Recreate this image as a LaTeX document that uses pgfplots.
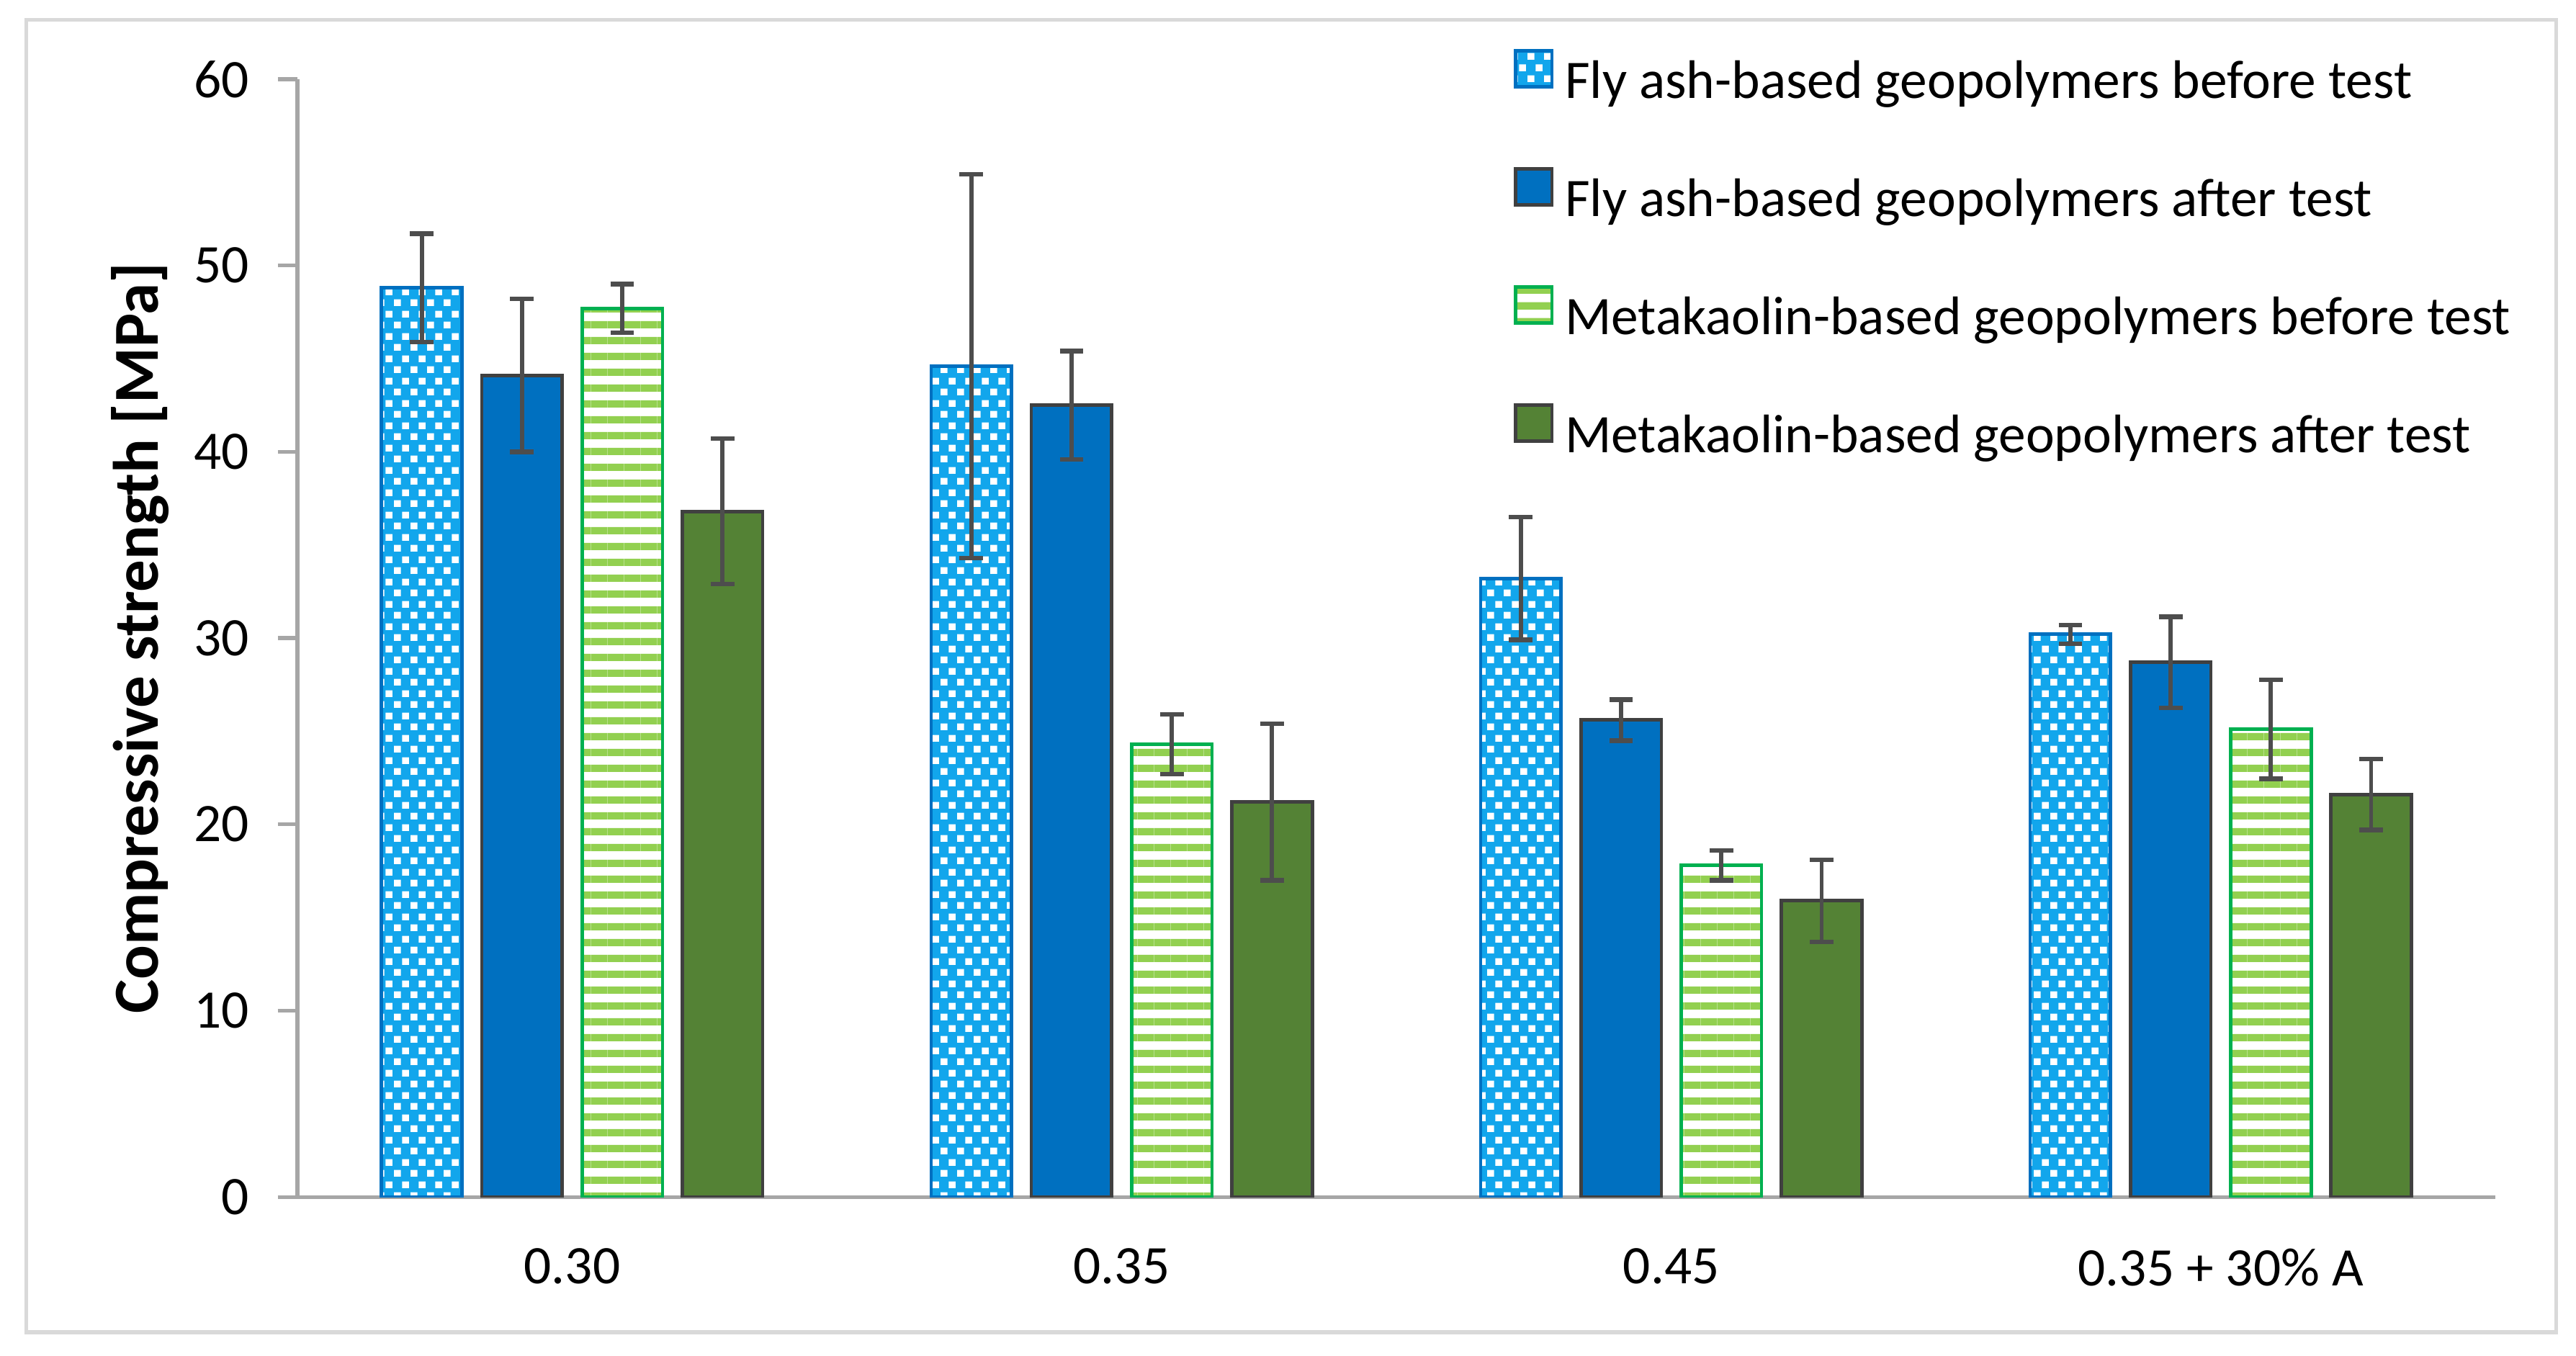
\documentclass[border=0pt]{standalone}
\usepackage{fontspec}
\setmainfont{Carlito}
\usepackage{pgfplots}
\pgfplotsset{compat=1.18}
\usetikzlibrary{patterns}

\definecolor{fablue}{HTML}{12A6EC}
\definecolor{fablueedge}{HTML}{0070C0}
\definecolor{fadark}{HTML}{0070C0}
\definecolor{mklight}{HTML}{92D050}
\definecolor{mkedge}{HTML}{00B050}
\definecolor{mkdark}{HTML}{548235}
\definecolor{edgegray}{HTML}{404040}
\definecolor{errgray}{HTML}{4D4D4D}
\definecolor{axgray}{HTML}{A6A6A6}
\definecolor{framegray}{HTML}{D9D9D9}

% white squares on the fly ash bars
\pgfdeclarepatternformonly{fasquares}{\pgfpoint{0mm}{0mm}}{\pgfpoint{1.0mm}{1.36mm}}{\pgfpoint{1.0mm}{1.36mm}}{%
  \pgfpathrectangle{\pgfpoint{0mm}{0mm}}{\pgfpoint{0.42mm}{0.42mm}}%
  \pgfpathrectangle{\pgfpoint{0.5mm}{0.68mm}}{\pgfpoint{0.42mm}{0.42mm}}%
  \pgfusepath{fill}}
% horizontal green stripes on the metakaolin bars
\pgfdeclarepatternformonly{mkstripes}{\pgfpoint{0mm}{0mm}}{\pgfpoint{1mm}{0.95mm}}{\pgfpoint{1mm}{0.95mm}}{%
  \pgfpathrectangle{\pgfpoint{0mm}{0mm}}{\pgfpoint{1mm}{0.45mm}}%
  \pgfusepath{fill}}

\pgfplotstableread{
x  fab  efab  fad  efad  mkb  emkb  mkd  emkd
0  48.8 2.9   44.1 4.1   47.7 1.3   36.8 3.9
1  44.6 10.3  42.5 2.9   24.3 1.6   21.2 4.2
2  33.2 3.3   25.6 1.1   17.8 0.8   15.9 2.2
3  30.2 0.5   28.7 2.45  25.1 2.65  21.6 1.9
}\strength

\newcommand{\chartfont}{\fontsize{9.4pt}{11pt}\selectfont}

\begin{document}
\begin{tikzpicture}
\path[use as bounding box] (0,0) rectangle (156.8mm,82.5mm);
\draw[framegray, line width=0.7pt] (1.6mm,1.4mm) rectangle (155.6mm,81.3mm);
\begin{axis}[
    at={(18.1mm,9.64mm)}, anchor=south west,
    scale only axis,
    width=133.8mm, height=68.04mm,
    ybar, bar width=4.9mm,
    xmin=-0.5, xmax=3.5,
    ymin=0, ymax=60,
    ytick={0,10,...,60},
    xtick={0,1,2,3},
    xticklabels={0.30,0.35,0.45,0.35 + 30\% A},
    axis x line*=bottom, axis y line*=left,
    axis line style={-, axgray, line width=0.65pt},
    tick align=outside,
    major tick length=1.2mm,
    ytick style={axgray, line width=0.65pt},
    xtick style={draw=none},
    /pgf/number format/assume math mode=true,
    tick label style={font=\chartfont, text=black},
    yticklabel style={xshift=-0.5mm},
    xticklabel style={yshift=-0.7mm},
    ylabel={Compressive strength [MPa]},
    ylabel style={font=\fontsize{11.1pt}{13pt}\selectfont\bfseries, at={(axis description cs:-0.0714,0.5)}, anchor=center},
    legend image code/.code={\draw[#1] (0mm,-0.1mm) rectangle (2.2mm,2.1mm);},
    legend cell align=left,
    legend style={draw=none, fill=none, font=\chartfont,
        at={(0.553,1.028)}, anchor=north west,
        inner sep=0pt, row sep=3.48mm, column sep=0.7mm,
        nodes={inner sep=0pt, text height=2.3mm, text depth=0.7mm}},
    error bars/y dir=both,
    error bars/y explicit,
    error bars/error bar style={errgray, line width=0.7pt},
    error bars/error mark options={rotate=90, mark size=0.72mm, line width=0.8pt, errgray},
]
\addplot[bar shift=-9.15mm, fill=fablue, draw=fablueedge, line width=0.6pt,
    postaction={pattern=fasquares, pattern color=white}]
    table[x=x, y=fab, y error=efab] {\strength};
\addlegendentry{Fly ash-based geopolymers before test}
\addplot[bar shift=-3.05mm, fill=fadark, draw=edgegray, line width=0.6pt]
    table[x=x, y=fad, y error=efad] {\strength};
\addlegendentry{Fly ash-based geopolymers after test}
\addplot[bar shift=3.05mm, fill=white, draw=mkedge, line width=0.6pt,
    postaction={pattern=mkstripes, pattern color=mklight}]
    table[x=x, y=mkb, y error=emkb] {\strength};
\addlegendentry{Metakaolin-based geopolymers before test}
\addplot[bar shift=9.15mm, fill=mkdark, draw=edgegray, line width=0.6pt]
    table[x=x, y=mkd, y error=emkd] {\strength};
\addlegendentry{Metakaolin-based geopolymers after test}
\end{axis}
\end{tikzpicture}
\end{document}
